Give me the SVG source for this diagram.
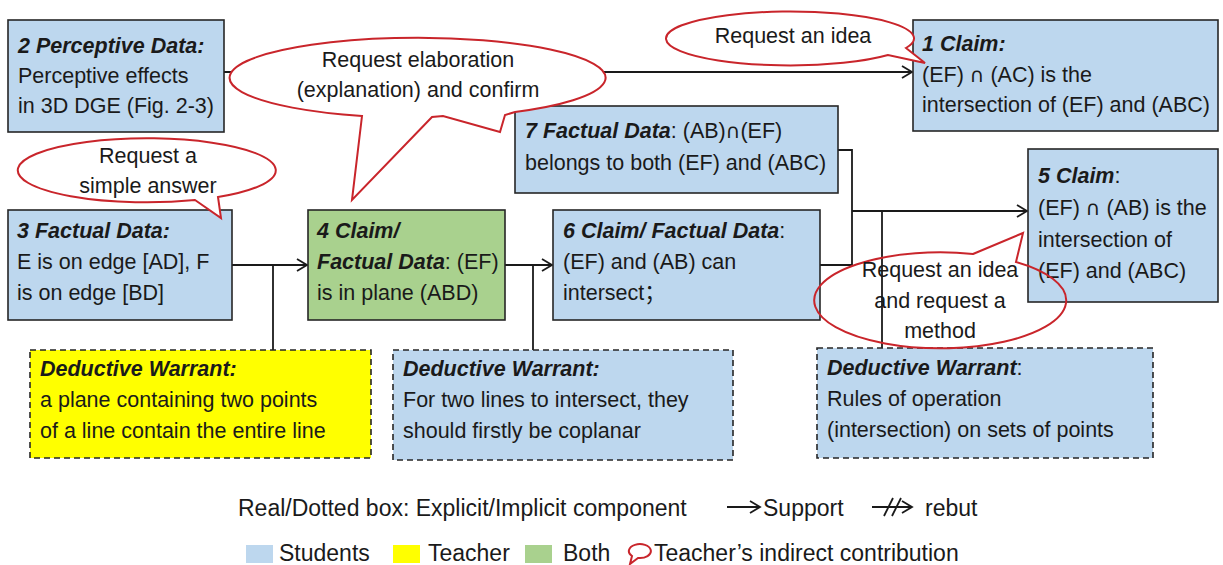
<svg xmlns="http://www.w3.org/2000/svg" width="1223" height="565" viewBox="0 0 1223 565">
<defs>
<style>
text{font-family:"Liberation Sans",Arial,"Noto Sans CJK SC",sans-serif;font-size:21.5px;fill:#1a1a1a}
.bi{font-weight:bold;font-style:italic}
.c{text-anchor:middle}
.lg{font-size:23px}
.cap{font-family:"DejaVu Sans",sans-serif;font-size:20px}
.box{stroke:#262626;stroke-width:1.6}
.dash{stroke:#262626;stroke-width:1.6;stroke-dasharray:6 4}
.blue{fill:#bdd7ee}
.yel{fill:#ffff00}
.grn{fill:#a9d18e}
.con{fill:none;stroke:#1a1a1a;stroke-width:1.8}
.call{stroke:#c9252b;stroke-width:2}
</style>
<marker id="arr" markerUnits="userSpaceOnUse" markerWidth="14" markerHeight="16" refX="11" refY="7" orient="auto">
<path d="M1,1 L11,7 L1,13" fill="none" stroke="#1a1a1a" stroke-width="1.8"/>
</marker>
</defs>
<rect width="1223" height="565" fill="#ffffff"/>

<g id="connectors">
<path class="con" d="M224,72 H912" marker-end="url(#arr)"/>
<path class="con" d="M232,265 H307" marker-end="url(#arr)"/>
<path class="con" d="M273,265 V350"/>
<path class="con" d="M505,265 H552" marker-end="url(#arr)"/>
<path class="con" d="M533,265 V350"/>
<path class="con" d="M838,150 H852 V265 H820"/>
<path class="con" d="M852,211 H1027" marker-end="url(#arr)"/>
<path class="con" d="M882,211 V348"/>
</g>

<g id="node2">
<rect class="box blue" x="8" y="20" width="216" height="112"/>
<text x="18" y="53" class="bi">2 Perceptive Data:</text>
<text x="18" y="83">Perceptive effects</text>
<text x="18" y="113">in 3D DGE (Fig. 2-3)</text>
</g>

<g id="node1">
<rect class="box blue" x="913" y="20" width="305" height="111"/>
<text x="922" y="51" class="bi">1 Claim:</text>
<text x="922" y="82">(EF) <tspan class="cap">∩</tspan> (AC) is the</text>
<text x="922" y="112">intersection of (EF) and (ABC)</text>
</g>

<g id="node7">
<rect class="box blue" x="515" y="106" width="323" height="87"/>
<text x="525" y="138"><tspan class="bi">7  Factual Data</tspan>: (AB)<tspan class="cap">∩</tspan>(EF)</text>
<text x="525" y="170">belongs to both (EF) and (ABC)</text>
</g>

<g id="node3">
<rect class="box blue" x="8" y="210" width="224" height="110"/>
<text x="17" y="238" class="bi">3 Factual Data:</text>
<text x="17" y="269">E is on edge [AD], F</text>
<text x="17" y="300">is on edge [BD]</text>
</g>

<g id="node4">
<rect class="box grn" x="308" y="210" width="197" height="110"/>
<text x="317" y="238" class="bi">4 Claim/</text>
<text x="317" y="269"><tspan class="bi">Factual Data</tspan>: (EF)</text>
<text x="317" y="300">is in plane (ABD)</text>
</g>

<g id="node6">
<rect class="box blue" x="553" y="210" width="267" height="110"/>
<text x="563" y="238"><tspan class="bi">6 Claim/ Factual Data</tspan>:</text>
<text x="563" y="269">(EF) and (AB) can</text>
<text x="563" y="300">intersect；</text>
</g>

<g id="node5">
<rect class="box blue" x="1028" y="149" width="190" height="153"/>
<text x="1038" y="183"><tspan class="bi">5 Claim</tspan>:</text>
<text x="1038" y="215">(EF) <tspan class="cap">∩</tspan> (AB) is the</text>
<text x="1038" y="247">intersection of</text>
<text x="1038" y="278">(EF) and (ABC)</text>
</g>

<g id="warrant1">
<rect class="dash yel" x="30" y="350" width="341" height="108"/>
<text x="40" y="376" class="bi">Deductive Warrant:</text>
<text x="40" y="407">a plane containing two points</text>
<text x="40" y="438">of a line contain the entire line</text>
</g>

<g id="warrant2">
<rect class="dash blue" x="393" y="350" width="340" height="110"/>
<text x="403" y="376" class="bi">Deductive Warrant:</text>
<text x="403" y="407">For two lines to intersect, they</text>
<text x="403" y="438">should firstly be coplanar</text>
</g>

<g id="warrant3">
<rect class="dash blue" x="817" y="348" width="336" height="110"/>
<text x="827" y="375"><tspan class="bi">Deductive Warrant</tspan>:</text>
<text x="827" y="406">Rules of operation</text>
<text x="827" y="437">(intersection) on sets of points</text>
</g>

<g id="callout-elaboration">
<path class="call" fill="#ffffff" d="M362,116 L352,200 L432,117 L443,116 L500,132 L505,115 L515,112 A188,40 0 1 0 362,116 Z"/>
<text x="418" y="67" class="c">Request elaboration</text>
<text x="418" y="97" class="c">(explanation) and confirm</text>
</g>

<g id="callout-idea-top">
<path class="call" fill="#ffffff" d="M906,48 L925,63 L888,55 A124,27 0 1 1 906,48 Z"/>
<text x="793" y="43" class="c">Request an idea</text>
</g>

<g id="callout-simple">
<path class="call" fill="#ffffff" d="M195,200 L221,218 L218,197 A129,32 0 1 0 195,200 Z"/>
<text x="148" y="163" class="c">Request a</text>
<text x="148" y="193" class="c">simple answer</text>
</g>

<g id="callout-method">
<path class="call" fill="none" d="M973,254 L1023,233 L1016,262 A126,48 0 1 1 973,254 Z"/>
<text x="940" y="277" class="c">Request an idea</text>
<text x="940" y="308" class="c">and request a</text>
<text x="940" y="338" class="c">method</text>
</g>

<g id="legend">
<text x="238" y="516" class="lg">Real/Dotted box: Explicit/Implicit component</text>
<path class="con" d="M727,507 H760" marker-end="url(#arr)"/>
<text x="763" y="516" class="lg">Support</text>
<path class="con" d="M872,507 H912"/>
<path class="con" d="M884,516 L893,498 M892,516 L901,498 M902,501 L912,507 L902,513"/>
<text x="925" y="516" class="lg">rebut</text>
<rect x="246" y="545" width="27" height="18" class="blue"/>
<text x="279" y="561" class="lg">Students</text>
<rect x="393" y="545" width="27" height="18" class="yel"/>
<text x="428" y="561" class="lg">Teacher</text>
<rect x="525" y="545" width="27" height="18" class="grn"/>
<text x="563" y="561" class="lg">Both</text>
<path class="call" fill="none" d="M632,556 L630,564 L638,558 A11,7 0 1 0 632,556 Z"/>
<text x="654" y="561" class="lg">Teacher’s indirect contribution</text>
</g>
</svg>
